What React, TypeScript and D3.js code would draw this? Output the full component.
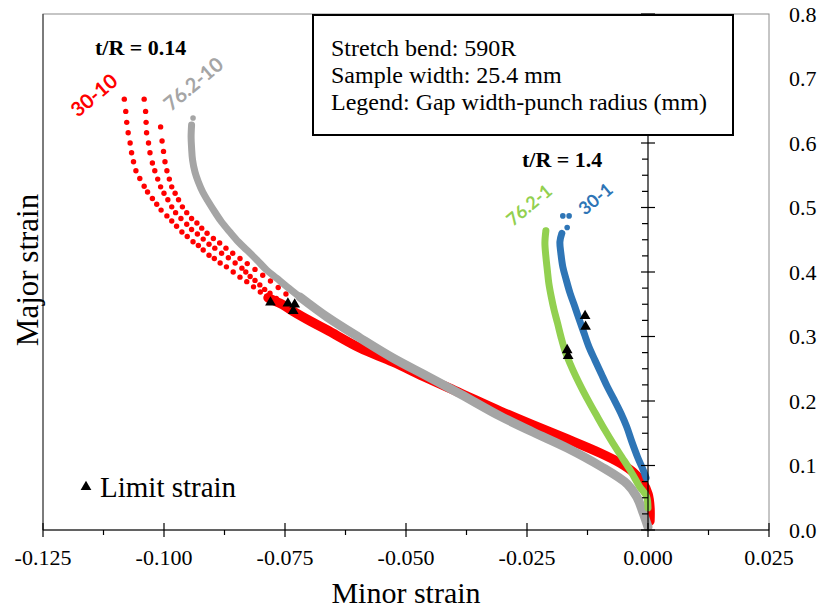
import React from 'react';
import * as d3 from 'd3';

const xTicks = [-0.125, -0.1, -0.075, -0.05, -0.025, 0, 0.025];
const yTicks = [0, 0.1, 0.2, 0.3, 0.4, 0.5, 0.6, 0.7, 0.8];
const xMinor = [-0.1125, -0.0875, -0.0625, -0.0375, -0.0125, 0.0125];
const yMinor = [0.025, 0.05, 0.075, 0.125, 0.15, 0.175, 0.225, 0.25, 0.275, 0.325, 0.35, 0.375, 0.425, 0.45, 0.475, 0.525, 0.55, 0.575, 0.625, 0.65, 0.675, 0.725, 0.75, 0.775];

// 30-10 (three samples, sparse upper part: individual points)
const red30_10_a: [number, number][] = [
  [-0.1082, 0.668], [-0.1079, 0.649], [-0.1077, 0.632], [-0.1074, 0.616], [-0.107, 0.6],
  [-0.1067, 0.585], [-0.1063, 0.571], [-0.1058, 0.557], [-0.105, 0.545], [-0.1041, 0.533],
  [-0.1034, 0.524], [-0.1024, 0.514], [-0.1015, 0.505], [-0.1006, 0.496], [-0.0994, 0.487],
  [-0.0984, 0.479], [-0.0974, 0.471], [-0.0963, 0.462], [-0.0952, 0.455], [-0.094, 0.447],
  [-0.0929, 0.441], [-0.0919, 0.434], [-0.0907, 0.426], [-0.0896, 0.421], [-0.0884, 0.414],
  [-0.0871, 0.408], [-0.0857, 0.4], [-0.0843, 0.392], [-0.0829, 0.385], [-0.0815, 0.377],
  [-0.0801, 0.369], [-0.0788, 0.362], [-0.0771, 0.354], [-0.0754, 0.346],
];
const red30_10_b: [number, number][] = [
  [-0.1041, 0.668], [-0.1038, 0.649], [-0.1037, 0.632], [-0.1036, 0.616], [-0.1032, 0.6],
  [-0.1029, 0.585], [-0.1024, 0.569], [-0.1019, 0.557], [-0.1013, 0.544], [-0.1007, 0.532],
  [-0.1, 0.522], [-0.0992, 0.512], [-0.0984, 0.501], [-0.0976, 0.492], [-0.0965, 0.483],
  [-0.0953, 0.474], [-0.0943, 0.466], [-0.0931, 0.459], [-0.0919, 0.451], [-0.0907, 0.443],
  [-0.0895, 0.437], [-0.0881, 0.429], [-0.0867, 0.422], [-0.0853, 0.414], [-0.0839, 0.406],
  [-0.0831, 0.4], [-0.0822, 0.393], [-0.0812, 0.387], [-0.0802, 0.38], [-0.0792, 0.373],
  [-0.0781, 0.367], [-0.0768, 0.359], [-0.0754, 0.351],
];
const red30_10_c: [number, number][] = [
  [-0.1007, 0.625], [-0.1004, 0.603], [-0.1001, 0.587], [-0.0998, 0.571], [-0.0994, 0.557],
  [-0.0989, 0.544], [-0.0984, 0.532], [-0.0977, 0.522], [-0.097, 0.512], [-0.0962, 0.501],
  [-0.0953, 0.492], [-0.0943, 0.483], [-0.0932, 0.476], [-0.0922, 0.468], [-0.0911, 0.46],
  [-0.0898, 0.452], [-0.0885, 0.445], [-0.0872, 0.437], [-0.0858, 0.429], [-0.0843, 0.421],
  [-0.0828, 0.413], [-0.0812, 0.404], [-0.0796, 0.395], [-0.078, 0.386], [-0.0764, 0.376],
  [-0.0748, 0.366],
];
// 30-10 dense lower part (merged samples)
const red30_10_band: [number, number][] = [
  [-0.0785, 0.36], [-0.0754, 0.349], [-0.0733, 0.339], [-0.0698, 0.324], [-0.0663, 0.3101],
  [-0.0595, 0.2822], [-0.0527, 0.2605], [-0.0457, 0.2357], [-0.0388, 0.2124], [-0.0306, 0.1845],
  [-0.0238, 0.1628], [-0.0167, 0.1411], [-0.0099, 0.1194], [-0.0058, 0.1039], [-0.0031, 0.0899],
  [-0.0012, 0.0744], [0.0, 0.0558], [0.0004, 0.0341], [0.0004, 0.014],
];
// 76.2-10
const gray76_10: [number, number][] = [
  [-0.094, 0.6388], [-0.0943, 0.6279], [-0.0944, 0.6093], [-0.0943, 0.5922], [-0.0941, 0.5736],
  [-0.0936, 0.555], [-0.0929, 0.5395], [-0.092, 0.524], [-0.0908, 0.5085], [-0.0895, 0.493],
  [-0.0881, 0.4775], [-0.0864, 0.462], [-0.0846, 0.4465], [-0.0829, 0.4341], [-0.0808, 0.4186],
  [-0.0788, 0.4031], [-0.0767, 0.3902], [-0.0746, 0.3772], [-0.0719, 0.3612], [-0.0663, 0.3302],
  [-0.0595, 0.2977], [-0.0527, 0.2667], [-0.0457, 0.2388], [-0.0388, 0.2109], [-0.0306, 0.1767],
  [-0.0238, 0.1519], [-0.0167, 0.1271], [-0.0099, 0.0992], [-0.0043, 0.0713], [-0.0023, 0.0512],
  [-0.001, 0.0264], [0.0, 0.0047],
];
// 76.2-1
const green76_1: [number, number][] = [
  [-0.0211, 0.464], [-0.0213, 0.445], [-0.0211, 0.424], [-0.0208, 0.403], [-0.0205, 0.383],
  [-0.02, 0.362], [-0.0194, 0.341], [-0.0187, 0.321], [-0.018, 0.3], [-0.0172, 0.279],
  [-0.0161, 0.258], [-0.0149, 0.238], [-0.0135, 0.217], [-0.012, 0.196], [-0.0105, 0.176],
  [-0.0089, 0.155], [-0.0072, 0.134], [-0.0054, 0.113], [-0.0037, 0.093], [-0.0017, 0.067],
  [-0.0003, 0.052], [0.0, 0.034],
];
// 30-1
const blue30_1: [number, number][] = [
  [-0.0176, 0.487], [-0.0163, 0.487], [-0.0167, 0.469], [-0.0178, 0.46], [-0.0182, 0.447],
  [-0.018, 0.429], [-0.0176, 0.408], [-0.0169, 0.388], [-0.0161, 0.367], [-0.0151, 0.346],
  [-0.0142, 0.326], [-0.0132, 0.305], [-0.0122, 0.284], [-0.011, 0.264], [-0.0097, 0.243],
  [-0.0084, 0.222], [-0.007, 0.202], [-0.0056, 0.181], [-0.0044, 0.16], [-0.0033, 0.136],
  [-0.0021, 0.112], [-0.001, 0.093], [-0.0004, 0.081],
];
// limit strains
const limitStrain: [number, number][] = [
  [-0.078, 0.3527], [-0.0744, 0.3512], [-0.073, 0.3496], [-0.0733, 0.3395],
  [-0.013, 0.3318], [-0.0129, 0.3152], [-0.0167, 0.279], [-0.0165, 0.2698],
];

const infoLines = ['Stretch bend: 590R', 'Sample width: 25.4 mm', 'Legend: Gap width-punch radius (mm)'];

const RED = '#FF0000';
const GRAY = '#A5A5A5';
const GREEN = '#92D050';
const BLUE = '#2E75B6';
const SERIF = '"Liberation Serif", "Times New Roman", serif';
const SANS = 'Lato, "Open Sans", sans-serif';

export default function App() {
  const x = d3.scaleLinear().domain([-0.125, 0.025]).range([43, 769]);
  const y = d3.scaleLinear().domain([0, 0.8]).range([530, 14]);
  const line = d3
    .line<[number, number]>()
    .x((d) => x(d[0]))
    .y((d) => y(d[1]))
    .curve(d3.curveCatmullRom.alpha(0.5));
  const tri = d3.symbol(d3.symbolTriangle, 50)();
  const x0 = x(0);

  const dots = (data: [number, number][], color: string, r = 2.7) =>
    data.map((d, i) => <circle key={i} cx={x(d[0])} cy={y(d[1])} r={r} fill={color} />);

  const stroke = (data: [number, number][], color: string, w: number) => (
    <path d={line(data) || ''} fill="none" stroke={color} strokeWidth={w} strokeLinecap="round" strokeLinejoin="round" />
  );

  return (
    <svg width={820} height={611} style={{ position: 'absolute', left: 0, top: 0, background: '#fff' }}>
      <rect x={0} y={0} width={820} height={611} fill="#fff" />
      {/* plot frame */}
      <rect x={43} y={14} width={726} height={516} fill="none" stroke="#8c8c8c" strokeWidth={1} />
      <line x1={43} x2={43} y1={14} y2={530} stroke="#333" strokeWidth={1} />

      {/* series */}
      <g>
        {dots(red30_10_a, RED)}
        {dots(red30_10_b, RED)}
        {dots(red30_10_c, RED)}
        {stroke(red30_10_band, RED, 9.5)}
      </g>
      <g>
        {dots(gray76_10.slice(0, 1), GRAY, 2.8)}
        {stroke(gray76_10.slice(1, 19), GRAY, 7)}
        {stroke(gray76_10.slice(18), GRAY, 9)}
      </g>
      <g>
        {dots(green76_1.slice(0, 1), GREEN, 3)}
        {stroke(green76_1, GREEN, 7)}
      </g>
      <g>
        {dots(blue30_1.slice(0, 3), BLUE, 2.8)}
        {stroke(blue30_1.slice(3), BLUE, 7)}
      </g>
      {limitStrain.map((d, i) => (
        <path key={i} d={tri || ''} transform={`translate(${x(d[0])},${y(d[1])})`} fill="#000" />
      ))}

      {/* x axis */}
      <line x1={43} x2={769} y1={530} y2={530} stroke="#000" strokeWidth={1.2} />
      {xTicks.map((t) => (
        <g key={t}>
          <line x1={x(t)} x2={x(t)} y1={523} y2={537} stroke="#000" strokeWidth={1.2} />
          <text x={x(t)} y={565} textAnchor="middle" fontFamily={SERIF} fontSize={22} fill="#000">
            {t.toFixed(3)}
          </text>
        </g>
      ))}
      {xMinor.map((t) => (
        <line key={t} x1={x(t)} x2={x(t)} y1={530} y2={535} stroke="#000" strokeWidth={1.2} />
      ))}

      {/* y axis at x = 0 */}
      <line x1={x0} x2={x0} y1={14} y2={530} stroke="#000" strokeWidth={1.2} />
      {yTicks.map((t) => (
        <g key={t}>
          <line x1={x0 - 7} x2={x0 + 7} y1={y(t)} y2={y(t)} stroke="#000" strokeWidth={1.2} />
          <text x={789} y={y(t) + 7.5} textAnchor="start" fontFamily={SERIF} fontSize={22} fill="#000">
            {t.toFixed(1)}
          </text>
        </g>
      ))}
      {yMinor.map((t) => (
        <line key={t} x1={x0 - 6} x2={x0} y1={y(t)} y2={y(t)} stroke="#000" strokeWidth={1.2} />
      ))}

      {/* axis titles */}
      <text x={406} y={603} textAnchor="middle" fontFamily={SERIF} fontSize={30} fill="#000">
        Minor strain
      </text>
      <text transform="translate(38,270) rotate(-90)" textAnchor="middle" fontFamily={SERIF} fontSize={31} fill="#000">
        Major strain
      </text>

      {/* info box */}
      <rect x={313} y={15} width={420} height={120} fill="#fff" stroke="#000" strokeWidth={2} />
      {infoLines.map((s, i) => (
        <text key={i} x={331} y={56 + i * 27} fontFamily={SERIF} fontSize={24} fill="#000">
          {s}
        </text>
      ))}

      {/* annotations */}
      <text x={95} y={55} fontFamily={SERIF} fontWeight="bold" fontSize={22} fill="#000">t/R = 0.14</text>
      <text x={522} y={167} fontFamily={SERIF} fontWeight="bold" fontSize={22} fill="#000">t/R = 1.4</text>
      <text transform="translate(78,118) rotate(-40)" fontFamily={SANS} fontWeight="bold" fontSize={20} fill={RED}>30-10</text>
      <text transform="translate(171,112) rotate(-40)" fontFamily={SANS} fontWeight="bold" fontSize={20} fill={GRAY}>76.2-10</text>
      <text transform="translate(513,227) rotate(-40)" fontFamily={SANS} fontWeight="bold" fontSize={18} fill={GREEN}>76.2-1</text>
      <text transform="translate(585,216) rotate(-40)" fontFamily={SANS} fontWeight="bold" fontSize={18} fill={BLUE}>30-1</text>

      {/* limit strain legend */}
      <path d={tri || ''} transform="translate(86,487)" fill="#000" />
      <text x={100} y={497} fontFamily={SERIF} fontSize={29} fill="#000">Limit strain</text>
    </svg>
  );
}
